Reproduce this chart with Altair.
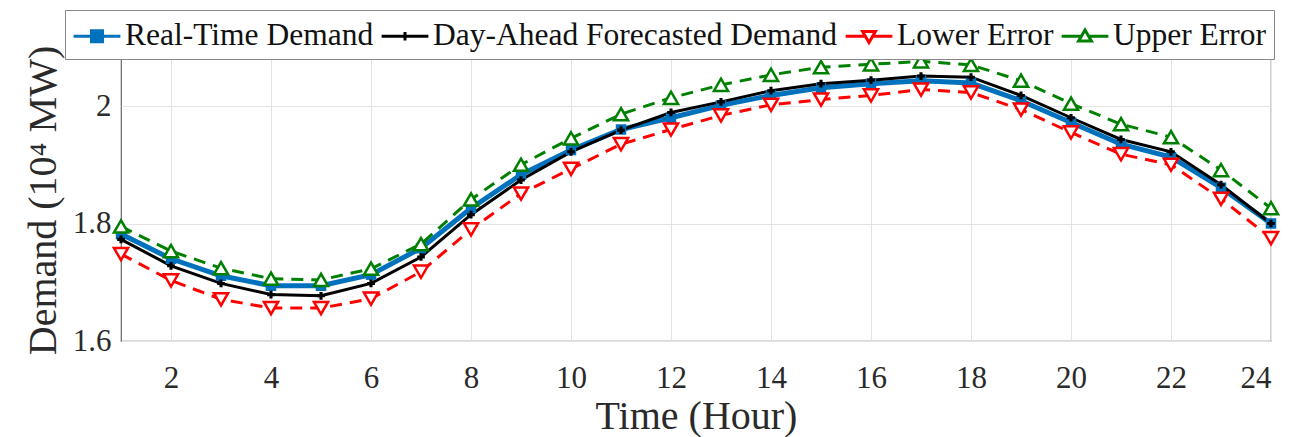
import altair as alt
import pandas as pd

hours = list(range(1, 25))
real_time = [1.782, 1.740, 1.711, 1.694, 1.694, 1.713, 1.758, 1.826, 1.883, 1.925,
             1.960, 1.980, 2.001, 2.018, 2.031, 2.038, 2.043, 2.039, 2.009, 1.972,
             1.935, 1.913, 1.861, 1.800]
day_ahead = [1.773, 1.728, 1.698, 1.679, 1.677, 1.698, 1.743, 1.815, 1.874, 1.922,
             1.959, 1.989, 2.007, 2.026, 2.038, 2.044, 2.051, 2.049, 2.018, 1.980,
             1.943, 1.922, 1.866, 1.800]
lower_err = [1.748, 1.703, 1.671, 1.656, 1.656, 1.672, 1.718, 1.790, 1.851, 1.893,
             1.935, 1.960, 1.984, 2.002, 2.011, 2.018, 2.028, 2.023, 1.994, 1.955,
             1.918, 1.900, 1.842, 1.775]
upper_err = [1.795, 1.753, 1.724, 1.706, 1.704, 1.723, 1.765, 1.841, 1.900, 1.945,
             1.986, 2.014, 2.036, 2.053, 2.066, 2.071, 2.076, 2.070, 2.043, 2.004,
             1.969, 1.947, 1.891, 1.826]

series_names = ["Real-Time Demand", "Day-Ahead Forecasted Demand", "Lower Error", "Upper Error"]
colors = ["#0072BD", "#000000", "#FF0000", "#008000"]
legend_fills = ["#0072BD", "#000000", "#FFFFFF", "#FFFFFF"]
legend_paths = [
    "M-1.35,0H-0.32M0.32,0H1.35M-0.32,-0.32H0.32V0.32H-0.32Z",
    "M-1.35,0H1.35M-0.25,0H0.25M0,-0.25V0.25",
    "M-1.35,0H-0.21M0.21,0H1.35M-0.37,-0.28H0.37L0,0.36Z",
    "M-1.35,0H-0.21M0.21,0H1.35M-0.37,0.28H0.37L0,-0.36Z",
]

rows = []
for name, vals in zip(series_names, [real_time, day_ahead, lower_err, upper_err]):
    for h, v in zip(hours, vals):
        rows.append({"hour": h, "demand": v, "series": name})
df = pd.DataFrame(rows)

FONT = "Liberation Serif"
TXT = "#2a2a2a"

x_enc = alt.X("hour:Q",
              scale=alt.Scale(domain=[1, 24], nice=False, zero=False),
              axis=alt.Axis(values=list(range(2, 25, 2)), title="Time (Hour)",
                            labelFont=FONT, titleFont=FONT,
                            labelPadding=22, titlePadding=3))
y_enc = alt.Y("demand:Q",
              scale=alt.Scale(domain=[1.6, 2.08], nice=False, zero=False),
              axis=alt.Axis(values=[1.6, 1.8, 2.0], format="~g", title="Demand (10⁴ MW)",
                            labelFont=FONT, titleFont=FONT,
                            labelPadding=10, titlePadding=9))

base = alt.Chart(df)

def sel(name):
    return base.transform_filter(alt.datum.series == name)

blue_line = sel(series_names[0]).mark_line(color=colors[0], strokeWidth=5).encode(x=x_enc, y=y_enc)
blue_pts = sel(series_names[0]).mark_point(shape="square", filled=True, size=110, color=colors[0], opacity=1).encode(x=x_enc, y=y_enc)

black_line = sel(series_names[1]).mark_line(color=colors[1], strokeWidth=3).encode(x=x_enc, y=y_enc)
black_pts = sel(series_names[1]).mark_point(shape="cross", filled=True, size=60, color=colors[1], opacity=1).encode(x=x_enc, y=y_enc)

red_line = sel(series_names[2]).mark_line(color=colors[2], strokeWidth=3, strokeDash=[12, 8]).encode(x=x_enc, y=y_enc)
red_pts = sel(series_names[2]).mark_point(shape="triangle-down", filled=True, fill="white", stroke=colors[2],
                                          strokeWidth=2.5, size=200, opacity=1).encode(x=x_enc, y=y_enc)

green_line = sel(series_names[3]).mark_line(color=colors[3], strokeWidth=3, strokeDash=[12, 8]).encode(x=x_enc, y=y_enc)
green_pts = sel(series_names[3]).mark_point(shape="triangle-up", filled=True, fill="white", stroke=colors[3],
                                            strokeWidth=2.5, size=200, opacity=1).encode(x=x_enc, y=y_enc)

leg = alt.Legend(title=None, orient="none", legendX=-56, legendY=-49, direction="horizontal",
                 columns=4, symbolSize=1200, symbolStrokeWidth=3, symbolOpacity=1,
                 symbolOffset=6,
                 labelFont=FONT, labelFontSize=31.5, labelColor="#111111", labelOffset=9,
                 columnPadding=1, padding=7, strokeColor="#888888", fillColor="white",
                 labelLimit=600)

legend_layer = base.mark_point(filled=True, opacity=0).encode(
    x=x_enc, y=y_enc,
    fill=alt.Fill("series:N", scale=alt.Scale(domain=series_names, range=legend_fills), legend=leg),
    stroke=alt.Stroke("series:N", scale=alt.Scale(domain=series_names, range=colors), legend=leg),
    shape=alt.Shape("series:N", scale=alt.Scale(domain=series_names, range=legend_paths), legend=leg),
)

chart = alt.layer(
    legend_layer,
    blue_line, black_line, red_line, green_line,
    blue_pts, black_pts, red_pts, green_pts,
).properties(
    width=1150, height=282,
    autosize=alt.AutoSizeParams(type="none"),
    padding={"left": 121, "top": 59, "right": 20, "bottom": 96},
).configure_view(
    stroke="#666666", strokeWidth=1.2
).configure_axis(
    labelFontSize=31, titleFontSize=40,
    titleFontWeight="normal", labelColor=TXT, titleColor=TXT,
    grid=True, gridColor="#e3e3e3", gridWidth=1, ticks=False, domain=False,
)

chart.save("out.html", embed_options={"renderer": "svg", "actions": False})
